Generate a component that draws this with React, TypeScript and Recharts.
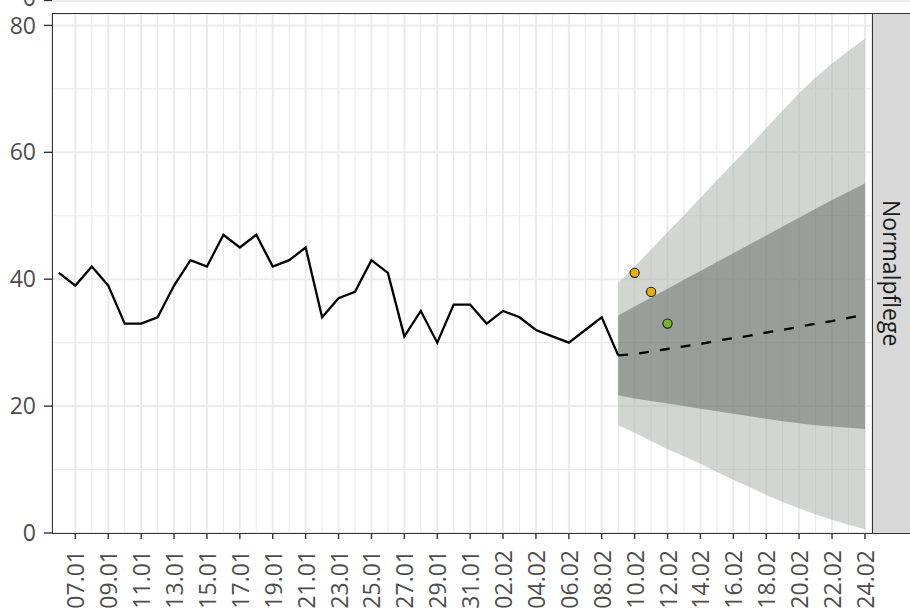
import { ComposedChart, Area, Line, Scatter, XAxis, YAxis, CartesianGrid } from 'recharts';

// one entry per day, 06.01 .. 24.02
const dates = [
  '06.01', '07.01', '08.01', '09.01', '10.01', '11.01', '12.01', '13.01', '14.01', '15.01',
  '16.01', '17.01', '18.01', '19.01', '20.01', '21.01', '22.01', '23.01', '24.01', '25.01',
  '26.01', '27.01', '28.01', '29.01', '30.01', '31.01', '01.02', '02.02', '03.02', '04.02',
  '05.02', '06.02', '07.02', '08.02', '09.02', '10.02', '11.02', '12.02', '13.02', '14.02',
  '15.02', '16.02', '17.02', '18.02', '19.02', '20.02', '21.02', '22.02', '23.02', '24.02',
];

const xTickLabels = [
  '07.01', '09.01', '11.01', '13.01', '15.01', '17.01', '19.01', '21.01', '23.01', '25.01',
  '27.01', '29.01', '31.01', '02.02', '04.02', '06.02', '08.02', '10.02', '12.02', '14.02',
  '16.02', '18.02', '20.02', '22.02', '24.02',
];
const xMinorLabels = [
  '08.01', '10.01', '12.01', '14.01', '16.01', '18.01', '20.01', '22.01', '24.01', '26.01',
  '28.01', '30.01', '01.02', '03.02', '05.02', '07.02', '09.02', '11.02', '13.02', '15.02',
  '17.02', '19.02', '21.02', '23.02',
];
const yTicks = [0, 20, 40, 60, 80];
const yMinor = [10, 30, 50, 70];

// observed occupancy from 06.01 to 09.02
const observed = [
  41, 39, 42, 39, 33, 33, 34, 39, 43, 42, 47, 45, 47, 42, 43, 45, 34, 37, 38, 43,
  41, 31, 35, 30, 36, 36, 33, 35, 34, 32, 31, 30, 32, 34, 28,
];

// forecast from 09.02 to 24.02
const forecastStart = '09.02';
const median = [28.0, 28.2, 28.6, 29.0, 29.4, 29.8, 30.3, 30.7, 31.1, 31.6, 32.0, 32.5, 33.0, 33.4, 33.9, 34.4];
const upper95 = [39.4, 42.0, 44.7, 47.4, 50.1, 52.8, 55.6, 58.3, 61.0, 63.8, 66.6, 69.3, 71.8, 74.0, 76.0, 77.9];
const upper50 = [34.3, 35.7, 37.1, 38.5, 39.9, 41.3, 42.7, 44.1, 45.5, 46.9, 48.3, 49.7, 51.1, 52.5, 53.8, 55.1];
const lower50 = [21.7, 21.2, 20.8, 20.4, 20.0, 19.6, 19.2, 18.8, 18.4, 18.0, 17.6, 17.3, 17.0, 16.8, 16.6, 16.4];
const lower95 = [17.0, 15.8, 14.5, 13.2, 12.1, 10.9, 9.6, 8.4, 7.2, 6.0, 4.9, 3.9, 2.9, 2.1, 1.3, 0.6];

// later reported values
const pointDates = ['10.02', '11.02', '12.02'];
const pointValues = [41, 38, 33];
const pointColors = ['#E9AE0B', '#E9AE0B', '#78B52B'];

const fcStart = dates.indexOf(forecastStart);

const rows = dates.map((date, t) => {
  const f = t - fcStart;
  const inFc = f >= 0 && f < median.length;
  return {
    t,
    date,
    observed: t < observed.length ? observed[t] : null,
    median: inFc ? median[f] : null,
    band95: inFc ? [lower95[f], upper95[f]] : null,
    band50: inFc ? [lower50[f], upper50[f]] : null,
  };
});

const pointRows = pointDates.map((d, i) => ({ t: dates.indexOf(d), value: pointValues[i], color: pointColors[i] }));

const FONT = '"Open Sans", sans-serif';

function DateTick({ x, y, payload }: any) {
  return (
    <text
      x={x}
      y={y}
      transform={`rotate(-90 ${x} ${y})`}
      textAnchor="end"
      dominantBaseline="central"
      fill="#4d4d4d"
      fontSize={23}
      fontFamily={FONT}
    >
      {dates[payload.value]}
    </text>
  );
}

export default function App() {
  return (
    <div style={{ position: 'absolute', left: 0, top: 0, width: 910, height: 609, overflow: 'hidden', background: '#fff' }}>
      {/* bottom of the facet above, cut off */}
      <svg width={60} height={10} style={{ position: 'absolute', left: 0, top: 0 }}>
        <text x={36} y={6} textAnchor="end" fill="#4d4d4d" fontSize={23} fontFamily={FONT}>0</text>
        <line x1={44} x2={52} y1={0.5} y2={0.5} stroke="#333" strokeWidth={1.3} />
      </svg>
      <div style={{ position: 'absolute', left: 52, top: 0, width: 858, height: 1.5, background: '#ebebeb' }} />

      <ComposedChart
        width={910}
        height={609}
        data={rows}
        margin={{ top: 14, right: 38, bottom: 0, left: 0 }}
      >
        <CartesianGrid
          stroke="#ebebeb"
          strokeWidth={1.1}
          horizontalValues={yMinor}
          verticalValues={xMinorLabels.map((d) => dates.indexOf(d))}
        />
        <CartesianGrid stroke="#ebebeb" strokeWidth={2} />
        <XAxis
          dataKey="t"
          type="number"
          domain={[-0.42, 49.43]}
          allowDataOverflow
          ticks={xTickLabels.map((d) => dates.indexOf(d))}
          interval={0}
          height={76}
          tickSize={6}
          tickMargin={11}
          axisLine={false}
          tickLine={{ stroke: '#333', strokeWidth: 1.4 }}
          tick={<DateTick />}
        />
        <YAxis
          type="number"
          domain={[0, 81.8]}
          allowDataOverflow
          ticks={yTicks}
          width={52}
          tickSize={8}
          tickMargin={8}
          axisLine={false}
          tickLine={{ stroke: '#333', strokeWidth: 1.4 }}
          tick={{ fill: '#4d4d4d', fontSize: 23, fontFamily: FONT }}
        />
        <Area
          dataKey="band95"
          type="linear"
          stroke="none"
          fill="#a5ada8"
          fillOpacity={0.5}
          isAnimationActive={false}
        />
        <Area
          dataKey="band50"
          type="linear"
          stroke="none"
          fill="#4f5a53"
          fillOpacity={0.445}
          isAnimationActive={false}
        />
        <Line
          dataKey="observed"
          type="linear"
          stroke="#000"
          strokeWidth={2.3}
          dot={false}
          isAnimationActive={false}
        />
        <Line
          dataKey="median"
          type="linear"
          stroke="#000"
          strokeWidth={2.3}
          strokeDasharray="10 11"
          dot={false}
          isAnimationActive={false}
        />
        <Scatter
          data={pointRows}
          dataKey="value"
          isAnimationActive={false}
          shape={(p: any) => (
            <circle cx={p.cx} cy={p.cy} r={4.6} fill={p.payload.color} stroke="#1a1a1a" strokeWidth={1.1} />
          )}
        />
      </ComposedChart>

      {/* panel border */}
      <div
        style={{
          position: 'absolute', left: 52, top: 13, width: 821, height: 521,
          border: '1.5px solid #333', boxSizing: 'border-box', pointerEvents: 'none',
        }}
      />
      {/* facet strip */}
      <div
        style={{
          position: 'absolute', left: 873, top: 13, width: 45, height: 521,
          background: '#d9d9d9', borderTop: '1.5px solid #333', borderBottom: '1.5px solid #333',
          boxSizing: 'border-box', display: 'flex', alignItems: 'center', justifyContent: 'flex-start',
        }}
      >
        <div
          style={{
            writingMode: 'vertical-rl', fontFamily: FONT, fontSize: 23, color: '#1a1a1a',
            width: 37, display: 'flex', alignItems: 'center', justifyContent: 'center', lineHeight: 1,
          }}
        >
          Normalpflege
        </div>
      </div>
    </div>
  );
}
